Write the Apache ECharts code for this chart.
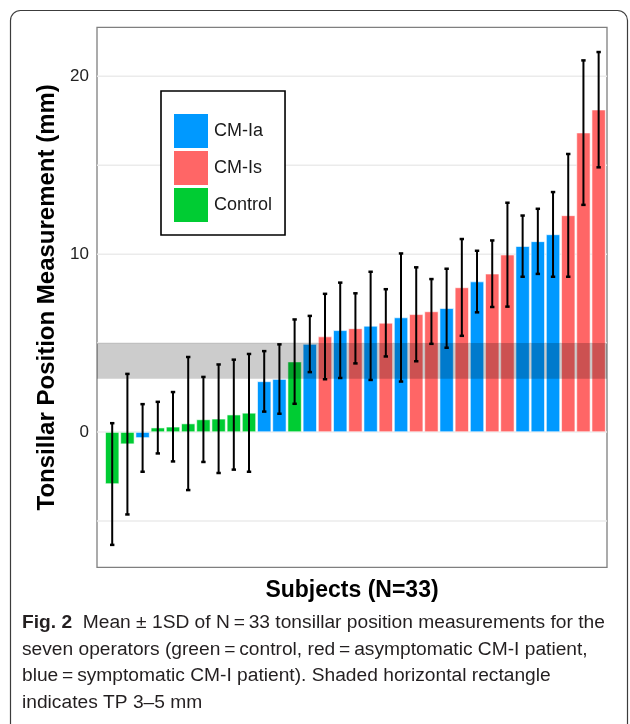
<!DOCTYPE html>
<html>
<head>
<meta charset="utf-8">
<script src="https://cdn.jsdelivr.net/npm/echarts@6/dist/echarts.min.js"></script>
<style>
html,body{margin:0;padding:0;background:#fff;}
#chart{width:630px;height:724px;}
</style>
</head>
<body>
<div id="chart"></div>
<script>
// ---- data ----
const groupNames = ['CM-Ia', 'CM-Is', 'Control'];
const groupColors = ['#0099FF', '#FF6666', '#00CC33'];
const subjectGroup = [
  'Control','Control','CM-Ia','Control','Control','Control','Control','Control','Control','Control',
  'CM-Ia','CM-Ia','Control','CM-Ia','CM-Is','CM-Ia','CM-Is','CM-Ia','CM-Is','CM-Ia',
  'CM-Is','CM-Is','CM-Ia','CM-Is','CM-Ia','CM-Is','CM-Is','CM-Ia','CM-Ia','CM-Ia',
  'CM-Is','CM-Is','CM-Is'
];
const means = [
  -2.92, -0.68, -0.33, 0.25, 0.30, 0.48, 0.71, 0.75, 0.98, 1.08,
  2.85, 2.98, 3.96, 4.95, 5.37, 5.72, 5.83, 5.97, 6.14, 6.44,
  6.62, 6.78, 6.96, 8.13, 8.46, 8.90, 9.97, 10.45, 10.72, 11.11,
  12.18, 16.83, 18.12
];
const sds = [
  3.42, 3.95, 1.90, 1.45, 1.95, 3.74, 2.39, 3.05, 3.09, 3.31,
  1.70, 1.95, 2.37, 1.58, 2.40, 2.68, 1.97, 3.04, 1.89, 3.60,
  2.64, 1.82, 2.22, 2.72, 1.73, 1.87, 2.92, 1.72, 1.83, 2.38,
  3.45, 4.06, 3.24
];
const bandRange = [3, 5];            // TP 3–5 mm
const gridValues = [-5, 0, 5, 10, 15, 20];
const yTickLabels = [0, 10, 20];
const yTitle = 'Tonsillar Position Measurement (mm)';
const xTitle = 'Subjects (N=33)';
const captionLines = [
  ['Fig. 2', '  Mean \u00B1 1SD of N\u2009=\u200933 tonsillar position measurements for the'],
  ['', 'seven operators (green\u2009=\u2009control, red\u2009=\u2009asymptomatic CM-I patient,'],
  ['', 'blue\u2009=\u2009symptomatic CM-I patient). Shaded horizontal rectangle'],
  ['', 'indicates TP 3\u20135 mm']
];

// ---- build chart ----
const FONT = 'Liberation Sans, Arial, sans-serif';
const chart = echarts.init(document.getElementById('chart'), null, {renderer: 'canvas'});

const barSeries = groupNames.map((g, gi) => ({
  name: g,
  type: 'bar',
  barWidth: 14,
  barGap: '-100%',
  z: 2,
  itemStyle: {color: groupColors[gi], borderColor: '#ffffff', borderWidth: 0.6},
  data: means.map((m, i) => subjectGroup[i] === g ? [i + 1, m] : null).filter(d => d)
}));

const gridSeries = {
  type: 'custom',
  silent: true,
  z: 0,
  data: gridValues.map(v => [v]),
  renderItem: (params, api) => {
    const cs = params.coordSys;
    const y = api.coord([0, api.value(0)])[1];
    return {type: 'line', shape: {x1: cs.x, y1: y, x2: cs.x + cs.width, y2: y},
      style: {stroke: '#EBEBEB', lineWidth: 1.5}};
  }
};

const bandSeries = {
  type: 'custom',
  silent: true,
  z: 3,
  data: [bandRange],
  renderItem: (params, api) => {
    const cs = params.coordSys;
    const yTop = api.coord([0, api.value(1)])[1];
    const yBot = api.coord([0, api.value(0)])[1];
    return {type: 'rect', shape: {x: cs.x, y: yTop, width: cs.width, height: yBot - yTop},
      style: {fill: 'rgba(0,0,0,0.2)'}};
  }
};

const errSeries = {
  type: 'custom',
  silent: true,
  z: 4,
  data: means.map((m, i) => [i + 1, m - sds[i], m + sds[i]]),
  renderItem: (params, api) => {
    const x = api.value(0);
    const pLo = api.coord([x, api.value(1)]);
    const pHi = api.coord([x, api.value(2)]);
    const st = {stroke: '#000', lineWidth: 2};
    const cw = 2.2;
    return {type: 'group', children: [
      {type: 'line', shape: {x1: pLo[0], y1: pLo[1], x2: pHi[0], y2: pHi[1]}, style: st},
      {type: 'line', shape: {x1: pLo[0] - cw, y1: pLo[1], x2: pLo[0] + cw, y2: pLo[1]}, style: {stroke: '#000', lineWidth: 2.5}},
      {type: 'line', shape: {x1: pHi[0] - cw, y1: pHi[1], x2: pHi[0] + cw, y2: pHi[1]}, style: {stroke: '#000', lineWidth: 2.5}}
    ]};
  }
};

const captionGraphics = captionLines.map((ln, i) => ({
  type: 'text',
  left: 22,
  top: 613 + i * 26.8,
  style: {
    text: (ln[0] ? '{b|' + ln[0] + '}' : '') + '{n|' + ln[1] + '}',
    rich: {
      b: {fontFamily: FONT, fontSize: 19.2, fontWeight: 'bold', fill: '#231f20'},
      n: {fontFamily: FONT, fontSize: 19.2, fill: '#231f20'}
    }
  }
}));

const option = {
  animation: false,
  backgroundColor: '#ffffff',
  textStyle: {fontFamily: FONT},
  grid: {
    left: 97, top: 27.3, width: 510, height: 540,
    show: true, borderColor: '#7F7F7F', borderWidth: 1.3, backgroundColor: 'transparent',
    containLabel: false, outerBoundsMode: 'none'
  },
  legend: {
    orient: 'vertical',
    left: 161, top: 91,
    padding: [23, 13, 13, 13],
    itemGap: 3,
    itemWidth: 34, itemHeight: 34,
    icon: 'rect',
    borderColor: '#000', borderWidth: 1.6,
    backgroundColor: '#fff',
    data: groupNames,
    itemStyle: {borderWidth: 0},
    textStyle: {fontFamily: FONT, fontSize: 18, color: '#1a1a1a', padding: [0, 0, 0, 1]}
  },
  xAxis: {
    type: 'value',
    min: 0, max: 33.55,
    axisLine: {show: false, onZero: false},
    axisTick: {show: false},
    axisLabel: {show: false},
    splitLine: {show: false},
    name: xTitle,
    nameLocation: 'middle',
    nameGap: 12,
    nameTextStyle: {fontFamily: FONT, fontSize: 23, fontWeight: 'bold', color: '#000'}
  },
  yAxis: {
    type: 'value',
    min: -7.6, max: 22.75,
    axisLine: {show: false},
    axisTick: {show: false},
    splitLine: {show: false},
    axisLabel: {
      customValues: yTickLabels,
      formatter: v => (yTickLabels.indexOf(v) >= 0 ? String(v) : ''),
      fontFamily: FONT, fontSize: 17, color: '#222', margin: 8
    },
    name: yTitle,
    nameLocation: 'middle',
    nameGap: 37,
    nameRotate: 90,
    nameTextStyle: {fontFamily: FONT, fontSize: 24, fontWeight: 'bold', color: '#000'}
  },
  graphic: [
    {type: 'rect', silent: true, shape: {x: 10.5, y: 10.5, width: 617, height: 800, r: 10},
      style: {fill: 'none', stroke: '#3c3c3c', lineWidth: 1.2}},
    ...captionGraphics
  ],
  series: [gridSeries, ...barSeries, bandSeries, errSeries]
};
chart.setOption(option);
</script>
</body>
</html>
